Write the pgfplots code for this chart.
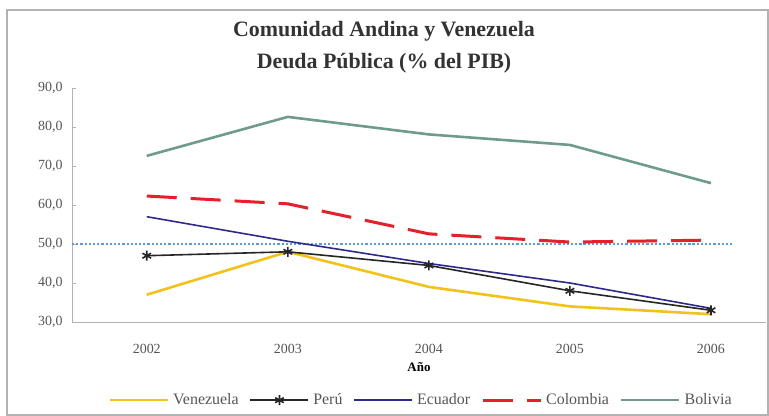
\documentclass[border=0pt]{standalone}
\usepackage{fontspec}
\setmainfont{Liberation Serif}
\usepackage{pgfplots}
\pgfplotsset{compat=1.18}

\definecolor{venez}{HTML}{F2C21B}
\definecolor{ecua}{HTML}{2E2A8C}
\definecolor{colom}{HTML}{E3202B}
\definecolor{boliv}{HTML}{6F9C8A}
\definecolor{ref}{HTML}{5E9AD8}
\definecolor{tick}{HTML}{555555}

\begin{document}
\begin{tikzpicture}
\path (0,0) rectangle (769bp,416bp);
\draw[gray!60, line width=1.2bp] (7bp,1bp) rectangle (768bp,406bp);
\node[font=\bfseries\fontsize{22}{32}\selectfont, text=black!80, align=center] at (384bp,369bp)
  {Comunidad Andina y Venezuela\\Deuda Pública (\% del PIB)};
\begin{axis}[
  at={(72bp,94bp)}, anchor=south west,
  scale only axis, width=694bp, height=234bp,
  xmin=2001.47, xmax=2006.39, ymin=30, ymax=90,
  xtick={2002,...,2006},
  xticklabel style={/pgf/number format/1000 sep={}, yshift=-19bp},
  ytick={30,40,...,90},
  yticklabel style={xshift=-6bp, /pgf/number format/.cd, fixed, fixed zerofill, precision=1, use comma},
  /pgf/number format/assume math mode=true,
  ticklabel style={font=\fontsize{14}{16}\selectfont, text=tick},
  axis x line*=bottom, axis y line*=left,
  axis line style={gray!60},
  x axis line style={-}, y axis line style={-},
  tick style={gray!60}, major tick length=4bp,
  xtick pos=bottom, ytick pos=left,
  xtick style={draw=none},
  xlabel={\bfseries Año},
  xlabel style={font=\fontsize{13}{15}\selectfont, yshift=-2bp},
  legend columns=5,
  legend style={at={(0.503,-0.334)}, anchor=center, draw=none, fill=none,
    font=\fontsize{16}{18}\selectfont, text=tick, inner sep=0pt,
    /tikz/every odd column/.append style={column sep=2bp},
    /tikz/every even column/.append style={column sep=9bp}},
  legend image code/.code={\draw[mark repeat=2, mark phase=2, #1] plot coordinates {(0bp,0bp)(29bp,0bp)(58bp,0bp)};},
  every axis plot/.append style={line width=2.2bp},
]
\addplot[ref, dotted, line width=2.4bp, forget plot] coordinates {(2001.47,50)(2006.15,50)};
\addplot[venez, line width=2.6bp] coordinates {(2002,37)(2003,48)(2004,39)(2005,34)(2006,32)};
\addlegendentry{Venezuela}
\addplot[black!85, line width=1.6bp, mark=asterisk, mark size=5bp]
  coordinates {(2002,47)(2003,48)(2004,44.5)(2005,38)(2006,33)};
\addlegendentry{Perú}
\addplot[ecua, line width=1.6bp] coordinates {(2002,57)(2003,50.7)(2004,45)(2005,40)(2006,33.5)};
\addlegendentry{Ecuador}
\addplot[colom, line width=3bp, dash pattern=on 30bp off 14bp]
  coordinates {(2002,62.3)(2003,60.3)(2004,52.6)(2005,50.5)(2006,51)};
\addlegendentry{Colombia}
\addplot[boliv, line width=2.6bp] coordinates {(2002,72.6)(2003,82.6)(2004,78.1)(2005,75.4)(2006,65.6)};
\addlegendentry{Bolivia}
\end{axis}
\end{tikzpicture}
\end{document}
